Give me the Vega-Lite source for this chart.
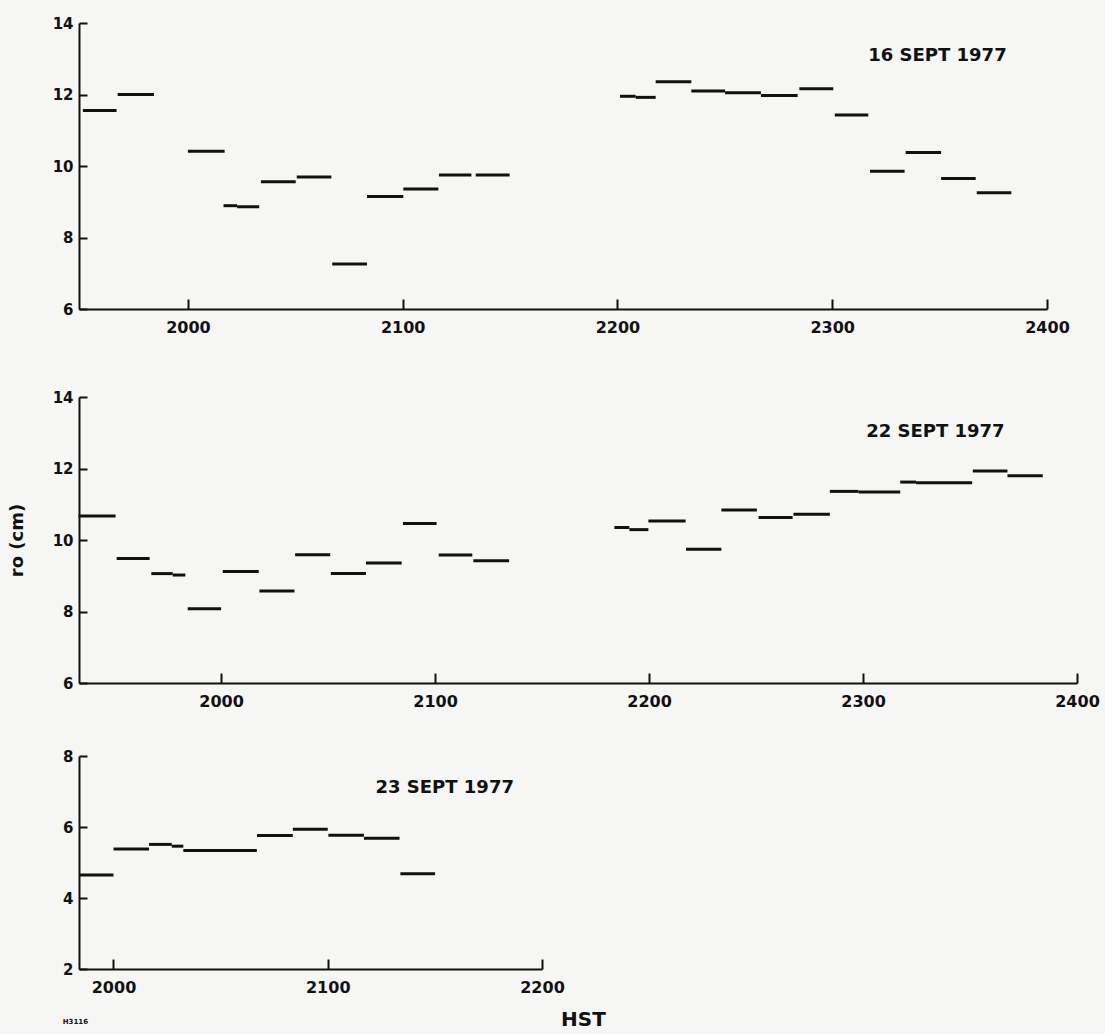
{
  "$schema": "https://vega.github.io/schema/vega-lite/v6.json",
  "background": "#f6f6f4",
  "padding": {"left": 8, "top": 16, "right": 5, "bottom": 5},
  "config": {
    "view": {"stroke": null},
    "font": "DejaVu Sans",
    "axis": {
      "grid": false,
      "domainColor": "#111111",
      "domainWidth": 2,
      "tickColor": "#111111",
      "tickWidth": 2,
      "labelFont": "DejaVu Sans",
      "labelFontWeight": "bold",
      "labelColor": "#111111",
      "labelFlush": false,
      "labelOverlap": false,
      "titleFont": "DejaVu Sans",
      "titleFontWeight": "bold",
      "titleColor": "#111111"
    },
    "axisX": {"tickSize": -10, "labelPadding": 20, "labelFontSize": 16},
    "axisY": {"tickSize": -8, "labelPadding": 14, "labelFontSize": 15}
  },
  "spacing": 40,
  "vconcat": [
    {
      "width": 968,
      "height": 286,
      "layer": [
        {
          "data": {"values": [
            {"t0": 1951.1, "t1": 1966.8, "r": 11.55},
            {"t0": 1967.3, "t1": 1984.2, "r": 12.0},
            {"t0": 2000.0, "t1": 2017.1, "r": 10.41},
            {"t0": 2016.6, "t1": 2022.9, "r": 8.89},
            {"t0": 2022.9, "t1": 2033.2, "r": 8.86},
            {"t0": 2034.0, "t1": 2050.2, "r": 9.56},
            {"t0": 2050.7, "t1": 2066.8, "r": 9.69},
            {"t0": 2067.2, "t1": 2083.4, "r": 7.26},
            {"t0": 2083.4, "t1": 2100.3, "r": 9.15},
            {"t0": 2100.3, "t1": 2116.6, "r": 9.36},
            {"t0": 2116.9, "t1": 2132.0, "r": 9.75},
            {"t0": 2134.0, "t1": 2149.8, "r": 9.75},
            {"t0": 2201.2, "t1": 2208.5, "r": 11.95},
            {"t0": 2208.5, "t1": 2217.8, "r": 11.92},
            {"t0": 2217.8, "t1": 2234.4, "r": 12.36},
            {"t0": 2234.4, "t1": 2250.1, "r": 12.10},
            {"t0": 2250.1, "t1": 2266.8, "r": 12.05},
            {"t0": 2266.8, "t1": 2283.9, "r": 11.97},
            {"t0": 2284.7, "t1": 2300.5, "r": 12.16},
            {"t0": 2301.2, "t1": 2316.8, "r": 11.43},
            {"t0": 2317.6, "t1": 2333.7, "r": 9.85},
            {"t0": 2334.2, "t1": 2350.7, "r": 10.38},
            {"t0": 2350.7, "t1": 2366.8, "r": 9.65},
            {"t0": 2367.3, "t1": 2383.4, "r": 9.25}
          ]},
          "mark": {"type": "rule", "strokeWidth": 3, "color": "#111111"},
          "encoding": {
            "x": {"field": "t0", "type": "quantitative",
              "scale": {"domain": [1949.3, 2400], "nice": false, "zero": false},
              "axis": {"title": " ", "titleFontSize": 15, "titlePadding": 0, "values": [2000, 2100, 2200, 2300, 2400], "format": "d"}},
            "x2": {"field": "t1"},
            "y": {"field": "r", "type": "quantitative",
              "scale": {"domain": [6, 14], "nice": false, "zero": false},
              "axis": {"title": null, "values": [6, 8, 10, 12, 14]}}
          }
        },
        {
          "data": {"values": [{"t": 2349, "r": 13.08, "label": "16 SEPT 1977"}]},
          "mark": {"type": "text", "font": "DejaVu Sans", "fontWeight": "bold", "fontSize": 18, "color": "#111111", "align": "center", "baseline": "middle"},
          "encoding": {
            "x": {"field": "t", "type": "quantitative"},
            "y": {"field": "r", "type": "quantitative"},
            "text": {"field": "label"}
          }
        }
      ]
    },
    {
      "width": 998,
      "height": 286,
      "layer": [
        {
          "data": {"values": [
            {"t0": 1933.4, "t1": 1950.7, "r": 10.67},
            {"t0": 1951.2, "t1": 1966.6, "r": 9.48},
            {"t0": 1967.4, "t1": 1977.4, "r": 9.06},
            {"t0": 1977.4, "t1": 1983.3, "r": 9.02},
            {"t0": 1984.4, "t1": 2000.0, "r": 8.08},
            {"t0": 2000.8, "t1": 2017.6, "r": 9.12},
            {"t0": 2017.9, "t1": 2034.3, "r": 8.57},
            {"t0": 2034.6, "t1": 2051.0, "r": 9.59},
            {"t0": 2051.3, "t1": 2067.7, "r": 9.06},
            {"t0": 2067.7, "t1": 2084.4, "r": 9.36},
            {"t0": 2085.0, "t1": 2100.7, "r": 10.46},
            {"t0": 2101.7, "t1": 2117.4, "r": 9.58},
            {"t0": 2117.9, "t1": 2134.6, "r": 9.42},
            {"t0": 2183.8, "t1": 2190.8, "r": 10.35},
            {"t0": 2190.8, "t1": 2199.7, "r": 10.29},
            {"t0": 2199.7, "t1": 2217.1, "r": 10.53},
            {"t0": 2217.3, "t1": 2233.8, "r": 9.74},
            {"t0": 2233.8, "t1": 2250.4, "r": 10.84},
            {"t0": 2251.2, "t1": 2267.1, "r": 10.63},
            {"t0": 2267.5, "t1": 2284.5, "r": 10.72},
            {"t0": 2284.5, "t1": 2297.9, "r": 11.36},
            {"t0": 2297.9, "t1": 2317.4, "r": 11.34},
            {"t0": 2317.4, "t1": 2324.8, "r": 11.62},
            {"t0": 2324.8, "t1": 2351.0, "r": 11.60},
            {"t0": 2351.3, "t1": 2367.5, "r": 11.93},
            {"t0": 2367.5, "t1": 2384.0, "r": 11.80}
          ]},
          "mark": {"type": "rule", "strokeWidth": 3, "color": "#111111"},
          "encoding": {
            "x": {"field": "t0", "type": "quantitative",
              "scale": {"domain": [1933.6, 2400], "nice": false, "zero": false},
              "axis": {"title": null, "values": [2000, 2100, 2200, 2300, 2400], "format": "d"}},
            "x2": {"field": "t1"},
            "y": {"field": "r", "type": "quantitative",
              "scale": {"domain": [6, 14], "nice": false, "zero": false},
              "axis": {"title": "ro (cm)", "titleFontSize": 18, "titlePadding": 26, "values": [6, 8, 10, 12, 14]}}
          }
        },
        {
          "data": {"values": [{"t": 2333.8, "r": 13.02, "label": "22 SEPT 1977"}]},
          "mark": {"type": "text", "font": "DejaVu Sans", "fontWeight": "bold", "fontSize": 18, "color": "#111111", "align": "center", "baseline": "middle"},
          "encoding": {
            "x": {"field": "t", "type": "quantitative"},
            "y": {"field": "r", "type": "quantitative"},
            "text": {"field": "label"}
          }
        }
      ]
    },
    {
      "width": 463,
      "height": 213,
      "layer": [
        {
          "data": {"values": [
            {"t0": 1983.9, "t1": 2000.0, "r": 4.65},
            {"t0": 2000.0, "t1": 2016.6, "r": 5.38},
            {"t0": 2016.6, "t1": 2027.2, "r": 5.51},
            {"t0": 2027.2, "t1": 2032.6, "r": 5.46},
            {"t0": 2032.6, "t1": 2066.9, "r": 5.34},
            {"t0": 2067.0, "t1": 2083.7, "r": 5.76},
            {"t0": 2083.7, "t1": 2100.0, "r": 5.94},
            {"t0": 2100.3, "t1": 2116.9, "r": 5.77},
            {"t0": 2116.9, "t1": 2133.5, "r": 5.68},
            {"t0": 2133.9, "t1": 2150.1, "r": 4.68}
          ]},
          "mark": {"type": "rule", "strokeWidth": 3, "color": "#111111"},
          "encoding": {
            "x": {"field": "t0", "type": "quantitative",
              "scale": {"domain": [1983.9, 2200], "nice": false, "zero": false},
              "axis": {"title": "HST", "titleFontSize": 20, "titleX": 504, "titleY": 50, "titleAlign": "center", "titleBaseline": "middle", "values": [2000, 2100, 2200], "format": "d"}},
            "x2": {"field": "t1"},
            "y": {"field": "r", "type": "quantitative",
              "scale": {"domain": [2, 8], "nice": false, "zero": false},
              "axis": {"title": null, "values": [2, 4, 6, 8]}}
          }
        },
        {
          "data": {"values": [
            {"t": 2154.6, "r": 7.11, "label": "23 SEPT 1977", "size": 18},
            {"t": 1982.2, "r": 0.51, "label": "H3116", "size": 7}
          ]},
          "mark": {"type": "text", "font": "DejaVu Sans", "fontWeight": "bold", "color": "#111111", "align": "center", "baseline": "middle"},
          "encoding": {
            "x": {"field": "t", "type": "quantitative"},
            "y": {"field": "r", "type": "quantitative"},
            "text": {"field": "label"},
            "size": {"field": "size", "type": "quantitative", "scale": null, "legend": null}
          }
        }
      ]
    }
  ]
}
